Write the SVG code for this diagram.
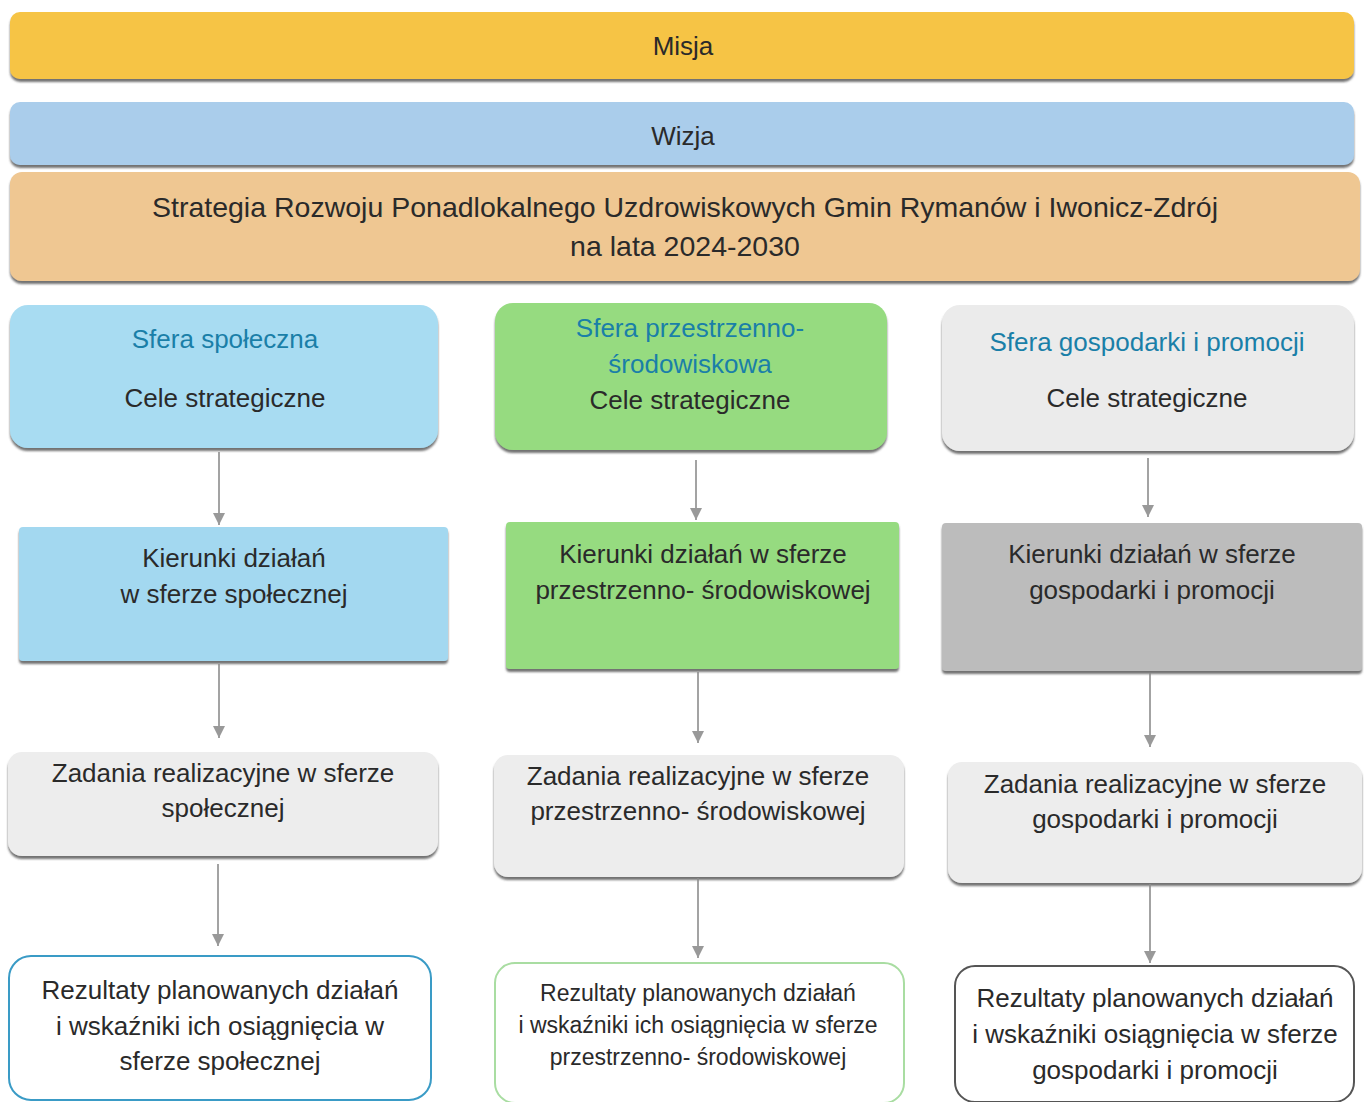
<svg xmlns="http://www.w3.org/2000/svg" width="1368" height="1102" viewBox="0 0 1368 1102">
<style>
text{font-family:"Liberation Sans",Arial,sans-serif;text-anchor:middle;fill:#2a2a2a}
.t{font-size:26px}
.ttl{font-size:26px;fill:#1a7fa8}
.big{font-size:28.5px}
.sm{font-size:23px}
.conn{stroke:#8c8c8c;stroke-width:1.6;fill:none}
</style>
<defs>
<filter id="sh" x="-5%" y="-10%" width="110%" height="130%">
<feDropShadow dx="0" dy="3" stdDeviation="1.2" flood-color="#444" flood-opacity="0.75"/>
</filter>
<marker id="ah" viewBox="0 0 12 12" refX="12" refY="6" markerWidth="12" markerHeight="12" markerUnits="userSpaceOnUse" orient="auto">
<path d="M0,0 L12,6 L0,12 Z" fill="#999"/>
</marker>
</defs>
<rect width="1368" height="1102" fill="#fff"/>

<g id="misja"><rect x="10" y="12" width="1344" height="67" rx="10" fill="#F6C444" filter="url(#sh)"/><text class="t" x="683" y="55">Misja</text></g>
<g id="wizja"><rect x="10" y="102" width="1344" height="63" rx="10" fill="#AACDEB" filter="url(#sh)"/><text class="t" x="683" y="145">Wizja</text></g>
<g id="strategia"><rect x="10" y="172" width="1350" height="109" rx="12" fill="#EFC792" filter="url(#sh)"/><text class="big" x="685" y="217">Strategia Rozwoju Ponadlokalnego Uzdrowiskowych Gmin Rymanów i Iwonicz-Zdrój</text><text class="big" x="685" y="256">na lata 2024-2030</text></g>

<g id="cele-spoleczna"><rect x="10" y="305" width="428" height="143" rx="18" fill="#A8DCF2" filter="url(#sh)"/><text class="ttl" x="225" y="348">Sfera społeczna</text><text class="t" x="225" y="407">Cele strategiczne</text></g>
<g id="cele-przestrzenna"><rect x="495" y="303" width="392" height="147" rx="18" fill="#96DB80" filter="url(#sh)"/><text class="ttl" x="690" y="337">Sfera przestrzenno-</text><text class="ttl" x="690" y="373">środowiskowa</text><text class="t" x="690" y="409">Cele strategiczne</text></g>
<g id="cele-gospodarka"><rect x="942" y="305" width="412" height="146" rx="18" fill="#EBEBEB" filter="url(#sh)"/><text class="ttl" x="1147" y="351">Sfera gospodarki i promocji</text><text class="t" x="1147" y="407">Cele strategiczne</text></g>

<g id="kier-spoleczna"><rect x="19" y="527" width="429" height="134" rx="4" fill="#A3D8F0" filter="url(#sh)"/><text class="t" x="234" y="567">Kierunki działań</text><text class="t" x="234" y="603">w sferze społecznej</text></g>
<g id="kier-przestrzenna"><rect x="506" y="522" width="393" height="147" rx="4" fill="#96DB80" filter="url(#sh)"/><text class="t" x="703" y="563">Kierunki działań w sferze</text><text class="t" x="703" y="599">przestrzenno- środowiskowej</text></g>
<g id="kier-gospodarka"><rect x="942" y="523" width="420" height="148" rx="4" fill="#BCBCBC" filter="url(#sh)"/><text class="t" x="1152" y="563">Kierunki działań w sferze</text><text class="t" x="1152" y="599">gospodarki i promocji</text></g>

<g id="zad-spoleczna"><rect x="8" y="752" width="430" height="104" rx="14" fill="#EDEDED" filter="url(#sh)"/><text class="t" x="223" y="782">Zadania realizacyjne w sferze</text><text class="t" x="223" y="817">społecznej</text></g>
<g id="zad-przestrzenna"><rect x="494" y="755" width="410" height="122" rx="14" fill="#EDEDED" filter="url(#sh)"/><text class="t" x="698" y="785">Zadania realizacyjne w sferze</text><text class="t" x="698" y="820">przestrzenno- środowiskowej</text></g>
<g id="zad-gospodarka"><rect x="948" y="762" width="414" height="121" rx="14" fill="#EDEDED" filter="url(#sh)"/><text class="t" x="1155" y="793">Zadania realizacyjne w sferze</text><text class="t" x="1155" y="828">gospodarki i promocji</text></g>

<g id="rez-spoleczna"><rect x="9" y="956" width="422" height="144" rx="22" fill="#fff" stroke="#3A9BC6" stroke-width="2"/><text class="t" x="220" y="999">Rezultaty planowanych działań</text><text class="t" x="220" y="1035">i wskaźniki ich osiągnięcia w</text><text class="t" x="220" y="1070">sferze społecznej</text></g>
<g id="rez-przestrzenna"><rect x="495" y="963" width="409" height="140" rx="20" fill="#fff" stroke="#A9DDA2" stroke-width="2"/><text class="sm" x="698" y="1001">Rezultaty planowanych działań</text><text class="sm" x="698" y="1033">i wskaźniki ich osiągnięcia w sferze</text><text class="sm" x="698" y="1065">przestrzenno- środowiskowej</text></g>
<g id="rez-gospodarka"><rect x="955" y="966" width="399" height="136" rx="20" fill="#fff" stroke="#555" stroke-width="2"/><text class="t" x="1155" y="1007">Rezultaty planowanych działań</text><text class="t" x="1155" y="1043">i wskaźniki osiągnięcia w sferze</text><text class="t" x="1155" y="1079">gospodarki i promocji</text></g>

<g id="connectors">
<line class="conn" x1="219" y1="452" x2="219" y2="525" marker-end="url(#ah)"/>
<line class="conn" x1="696" y1="460" x2="696" y2="520" marker-end="url(#ah)"/>
<line class="conn" x1="1148" y1="458" x2="1148" y2="517" marker-end="url(#ah)"/>
<line class="conn" x1="219" y1="664" x2="219" y2="738" marker-end="url(#ah)"/>
<line class="conn" x1="698" y1="672" x2="698" y2="743" marker-end="url(#ah)"/>
<line class="conn" x1="1150" y1="673" x2="1150" y2="747" marker-end="url(#ah)"/>
<line class="conn" x1="218" y1="864" x2="218" y2="946" marker-end="url(#ah)"/>
<line class="conn" x1="698" y1="878" x2="698" y2="958" marker-end="url(#ah)"/>
<line class="conn" x1="1150" y1="884" x2="1150" y2="963" marker-end="url(#ah)"/>
</g>
</svg>
